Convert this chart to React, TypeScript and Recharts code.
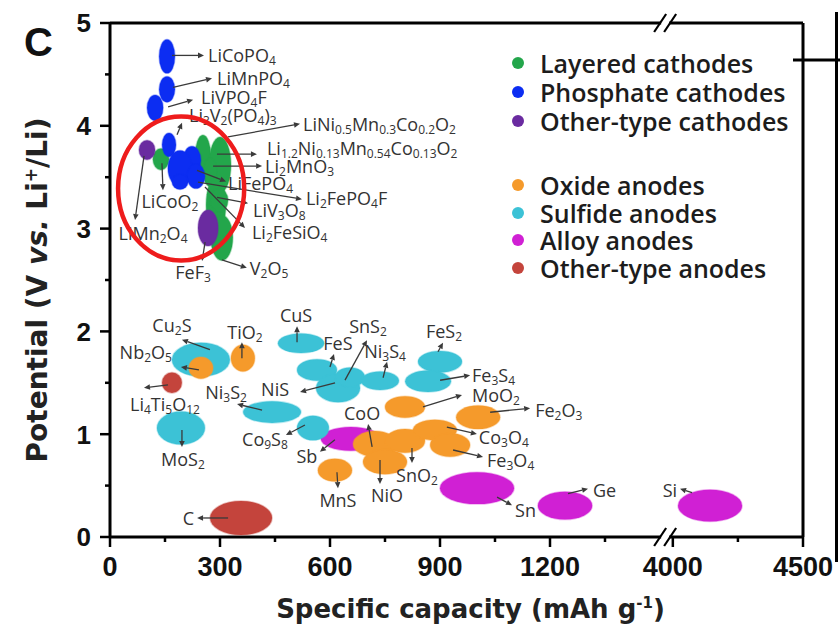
import React from 'react';
import { ScatterChart, Scatter, XAxis, YAxis, ReferenceLine, ReferenceDot } from 'recharts';

// Each material: specific capacity range (mAh/g) and potential range (V vs. Li+/Li)
type Material = { name: string; cap: [number, number]; pot: [number, number] };

const layeredCathodes: Material[] = [
  { name: 'LiCoO2', cap: [117, 161], pot: [3.57, 3.78] },
  { name: 'Li1.2Ni0.13Mn0.54Co0.13O2', cap: [232, 275], pot: [3.5, 3.91] },
  { name: 'LiNi0.5Mn0.3Co0.2O2', cap: [270, 330], pot: [3.35, 3.89] },
  { name: 'Li2MnO3', cap: [254, 292], pot: [3.41, 3.69] },
  { name: 'Li2FeSiO4', cap: [262, 316], pot: [2.96, 3.5] },
  { name: 'LiV3O8', cap: [273, 322], pot: [3.16, 3.39] },
  { name: 'V2O5', cap: [275, 335], pot: [2.69, 3.13] },
];

const phosphateCathodes: Material[] = [
  { name: 'LiCoPO4', cap: [134, 177], pot: [4.51, 4.84] },
  { name: 'LiMnPO4', cap: [134, 177], pot: [4.23, 4.48] },
  { name: 'LiVPO4F', cap: [101, 145], pot: [4.05, 4.3] },
  { name: 'Li3V2(PO4)3', cap: [142, 180], pot: [3.7, 3.93] },
  { name: 'LiMn0.5Fe0.5PO4', cap: [199, 248], pot: [3.53, 3.8] },
  { name: 'LiFePO4', cap: [158, 224], pot: [3.41, 3.76] },
  { name: 'Li2FePO4F', cap: [210, 259], pot: [3.39, 3.63] },
  { name: 'LiFe0.5Mn0.5PO4', cap: [169, 213], pot: [3.38, 3.53] },
];

const otherCathodes: Material[] = [
  { name: 'LiMn2O4', cap: [79, 123], pot: [3.67, 3.86] },
  { name: 'FeF3', cap: [240, 295], pot: [2.83, 3.18] },
];

const oxideAnodes: Material[] = [
  { name: 'Nb2O5', cap: [215, 281], pot: [1.54, 1.75] },
  { name: 'TiO2', cap: [330, 395], pot: [1.61, 1.87] },
  { name: 'MnS', cap: [567, 660], pot: [0.54, 0.76] },
  { name: 'CoO', cap: [663, 783], pot: [0.78, 1.03] },
  { name: 'NiO', cap: [690, 810], pot: [0.61, 0.85] },
  { name: 'SnO2', cap: [750, 859], pot: [0.82, 1.05] },
  { name: 'MoO2', cap: [750, 859], pot: [1.16, 1.37] },
  { name: 'Co3O4', cap: [826, 946], pot: [0.94, 1.14] },
  { name: 'Fe3O4', cap: [873, 982], pot: [0.78, 1.01] },
  { name: 'Fe2O3', cap: [944, 1064], pot: [1.05, 1.28] },
];

const sulfideAnodes: Material[] = [
  { name: 'Cu2S', cap: [169, 327], pot: [1.56, 1.89] },
  { name: 'CuS', cap: [458, 584], pot: [1.79, 1.98] },
  { name: 'MoS2', cap: [128, 259], pot: [0.9, 1.22] },
  { name: 'Ni3S2', cap: [363, 521], pot: [1.11, 1.32] },
  { name: 'Co9S8', cap: [510, 597], pot: [0.94, 1.18] },
  { name: 'FeS', cap: [510, 619], pot: [1.52, 1.73] },
  { name: 'NiS', cap: [562, 682], pot: [1.31, 1.59] },
  { name: 'SnS2', cap: [614, 695], pot: [1.46, 1.65] },
  { name: 'Ni3S4', cap: [685, 788], pot: [1.43, 1.61] },
  { name: 'FeS2', cap: [840, 960], pot: [1.6, 1.81] },
  { name: 'Fe3S4', cap: [805, 930], pot: [1.41, 1.62] },
];

const alloyAnodes: Material[] = [
  { name: 'Sb', cap: [575, 739], pot: [0.84, 1.07] },
  { name: 'Sn', cap: [900, 1102], pot: [0.32, 0.63] },
  { name: 'Ge', cap: [1167, 1315], pot: [0.17, 0.44] },
  { name: 'Si', cap: [4020, 4266], pot: [0.15, 0.46] },
];

const otherAnodes: Material[] = [
  { name: 'Li4Ti5O12', cap: [142, 196], pot: [1.4, 1.6] },
  { name: 'C', cap: [273, 442], pot: [0.02, 0.35] },
];

const legendOrder = ['layered', 'phosphate', 'otherCathode', 'oxide', 'sulfide', 'alloy', 'otherAnode'];
const drawOrder = ['layered', 'phosphate', 'otherCathode', 'alloy', 'sulfide', 'oxide', 'otherAnode'];

const categories: Record<string, { label: string; color: string; items: Material[] }> = {
  layered: { label: 'Layered cathodes', color: '#23a64b', items: layeredCathodes },
  phosphate: { label: 'Phosphate cathodes', color: '#0c2df2', items: phosphateCathodes },
  otherCathode: { label: 'Other-type cathodes', color: '#6a2ba0', items: otherCathodes },
  oxide: { label: 'Oxide anodes', color: '#f59a2b', items: oxideAnodes },
  sulfide: { label: 'Sulfide anodes', color: '#3cc2d6', items: sulfideAnodes },
  alloy: { label: 'Alloy anodes', color: '#d020d4', items: alloyAnodes },
  otherAnode: { label: 'Other-type anodes', color: '#c4443c', items: otherAnodes },
};

// Axis ticks (capacity axis has a break between 1500 and 4000 mAh/g)
const majorCapTicks = [0, 300, 600, 900, 1200, 4000, 4500];
const minorCapTicks = [150, 450, 750, 1050, 1350, 4250];
const majorPotTicks = [0, 1, 2, 3, 4, 5];
const minorPotTicks = [0.5, 1.5, 2.5, 3.5, 4.5];

// Callout layout: offsets in px from the material's drawn centre
type Callout = { of: string; tail: [number, number]; tip: [number, number]; at: [number, number]; anchor: 'start' | 'middle' | 'end' };
const callouts: Callout[] = [
  { of: 'LiCoPO4', tail: [5, -1], tip: [37, -1], at: [41, -1], anchor: 'start' },
  { of: 'LiMnPO4', tail: [6, -2], tip: [45, -11], at: [50, -11], anchor: 'start' },
  { of: 'LiVPO4F', tail: [13, -1], tip: [38, -8], at: [46, -11], anchor: 'start' },
  { of: 'Li3V2(PO4)3', tail: [8, -10], tip: [13, -22], at: [20, -30], anchor: 'start' },
  { of: 'LiNi0.5Mn0.3Co0.2O2', tail: [8, -28], tip: [80, -41], at: [83, -41], anchor: 'start' },
  { of: 'Li1.2Ni0.13Mn0.54Co0.13O2', tail: [14, -2], tip: [54, -2], at: [64, -8], anchor: 'start' },
  { of: 'Li2MnO3', tail: [3, -6], tip: [52, -6], at: [55, -6], anchor: 'start' },
  { of: 'LiFePO4', tail: [17, 2], tip: [46, 13], at: [48, 15], anchor: 'start' },
  { of: 'Li2FePO4F', tail: [2, 6], tip: [106, 23], at: [110, 22], anchor: 'start' },
  { of: 'LiV3O8', tail: [-2, -3], tip: [29, 3], at: [34, 10], anchor: 'start' },
  { of: 'Li2FeSiO4', tail: [-11, -18], tip: [29, 23], at: [36, 27], anchor: 'start' },
  { of: 'V2O5', tail: [0, 22], tip: [25, 30], at: [28, 30], anchor: 'start' },
  { of: 'LiCoO2', tail: [1, 4], tip: [2, 31], at: [9, 42], anchor: 'middle' },
  { of: 'LiMn2O4', tail: [-3, 6], tip: [-12, 70], at: [6, 83], anchor: 'middle' },
  { of: 'FeF3', tail: [-3, 14], tip: [-6, 33], at: [-15, 44], anchor: 'middle' },
  { of: 'Cu2S', tail: [9, -10], tip: [-19, -20], at: [-29, -35], anchor: 'middle' },
  { of: 'Nb2O5', tail: [-2, 2], tip: [-20, -1], at: [-29, -16], anchor: 'end' },
  { of: 'TiO2', tail: [-1, 0], tip: [-1, -16], at: [2, -26], anchor: 'middle' },
  { of: 'CuS', tail: [-4, -1], tip: [-4, -17], at: [-5, -28], anchor: 'middle' },
  { of: 'Li4Ti5O12', tail: [-4, 2], tip: [-28, 5], at: [-7, 21], anchor: 'middle' },
  { of: 'MoS2', tail: [1, 2], tip: [1, 19], at: [2, 31], anchor: 'middle' },
  { of: 'Ni3S2', tail: [-10, -2], tip: [-35, -8], at: [-46, -20], anchor: 'middle' },
  { of: 'NiS', tail: [-3, -5], tip: [-38, 4], at: [-63, 1], anchor: 'middle' },
  { of: 'Co9S8', tail: [-8, -3], tip: [-27, 7], at: [-48, 11], anchor: 'middle' },
  { of: 'FeS', tail: [13, -3], tip: [17, -16], at: [21, -27], anchor: 'middle' },
  { of: 'SnS2', tail: [-5, 3], tip: [17, -37], at: [18, -51], anchor: 'middle' },
  { of: 'Ni3S4', tail: [3, -3], tip: [7, -19], at: [5, -30], anchor: 'middle' },
  { of: 'FeS2', tail: [-2, -10], tip: [3, -19], at: [4, -31], anchor: 'middle' },
  { of: 'Fe3S4', tail: [12, -1], tip: [42, -6], at: [44, -6], anchor: 'start' },
  { of: 'MoO2', tail: [18, 0], tip: [57, -12], at: [67, -12], anchor: 'start' },
  { of: 'Fe2O3', tail: [12, -5], tip: [52, -9], at: [57, -7], anchor: 'start' },
  { of: 'Co3O4', tail: [12, -3], tip: [42, 4], at: [44, 7], anchor: 'start' },
  { of: 'Fe3O4', tail: [3, 5], tip: [33, 12], at: [37, 15], anchor: 'start' },
  { of: 'CoO', tail: [-3, 3], tip: [-7, -20], at: [-13, -31], anchor: 'middle' },
  { of: 'SnO2', tail: [7, 7], tip: [7, 22], at: [12, 34], anchor: 'middle' },
  { of: 'NiO', tail: [-5, -2], tip: [-5, 22], at: [2, 33], anchor: 'middle' },
  { of: 'MnS', tail: [2, 2], tip: [3, 18], at: [3, 30], anchor: 'middle' },
  { of: 'Sb', tail: [-16, 1], tip: [-31, 13], at: [-44, 17], anchor: 'middle' },
  { of: 'Sn', tail: [20, 9], tip: [35, 17], at: [38, 22], anchor: 'start' },
  { of: 'Ge', tail: [3, -12], tip: [23, -17], at: [28, -16], anchor: 'start' },
  { of: 'Si', tail: [-18, -13], tip: [-30, -17], at: [-33, -16], anchor: 'end' },
  { of: 'C', tail: [-13, 0], tip: [-44, 0], at: [-47, 0], anchor: 'end' },
];

// Highlighted region around the commercial cathodes
const highlight = { cap: [22, 366] as [number, number], pot: [2.69, 4.09] as [number, number] };

// ---- geometry ----
const W = 840;
const H = 635;
const MARGIN = { top: 23, right: 37, bottom: 38, left: 50 };
const Y_AXIS_W = 60;
const X_AXIS_H = 60;
const PLOT_W = W - MARGIN.left - MARGIN.right - Y_AXIS_W;
const PLOT_H = H - MARGIN.top - MARGIN.bottom - X_AXIS_H;
const POT_MAX = 5;

// broken capacity axis: 0–1500 linear, then 4000–4500 compressed after the break
const BREAK_FROM = 1500;
const RIGHT_START = 1535;
const RIGHT_SCALE = 0.71;
const toDisplay = (c: number) => (c <= BREAK_FROM ? c : RIGHT_START + (c - 4000) * RIGHT_SCALE);
const fromDisplay = (d: number) => (d <= BREAK_FROM ? d : 4000 + (d - RIGHT_START) / RIGHT_SCALE);
const X_MAX = toDisplay(4500);
const BREAK_AT = 1514;
const PX_PER_X = PLOT_W / X_MAX;
const PX_PER_Y = PLOT_H / POT_MAX;

const TICK_SIZE = 10;
const TICK_MARGIN = 10;
const AXIS_STROKE = 3;

const LABEL_FONT = '"Open Sans", "Noto Sans", sans-serif';
const TICK_FONT = '"Liberation Sans", Arial, sans-serif';
const TITLE_FONT = '"DejaVu Sans", sans-serif';

const centerOf = (m: Material) => ({
  x: toDisplay((m.cap[0] + m.cap[1]) / 2),
  y: (m.pot[0] + m.pot[1]) / 2,
});

const seriesRows = (key: string) =>
  categories[key].items.map((m) => ({ ...m, ...centerOf(m) }));

const allMaterials: Material[] = drawOrder.flatMap((k) => categories[k].items);
const calloutRows = callouts.map((c) => {
  const m = allMaterials.find((mm) => mm.name === c.of) as Material;
  return { ...c, text: m.name, ...centerOf(m) };
});

// ---- shapes ----
const EllipseShape = (props: any) => {
  const { cx, cy, payload, color } = props;
  if (cx == null || cy == null) return null;
  const rx = ((toDisplay(payload.cap[1]) - toDisplay(payload.cap[0])) / 2) * PX_PER_X;
  const ry = ((payload.pot[1] - payload.pot[0]) / 2) * PX_PER_Y;
  return <ellipse cx={cx} cy={cy} rx={rx} ry={ry} fill={color} stroke={color} strokeOpacity={0.35} strokeWidth={1.5} />;
};

const Formula = ({ text, x, y, anchor }: { text: string; x: number; y: number; anchor: string }) => {
  const parts = text.match(/[0-9.]+|[^0-9.]+/g) || [];
  let shifted = false;
  return (
    <text x={x} y={y} textAnchor={anchor as any} dominantBaseline="central" fontFamily={LABEL_FONT} fontSize={18} fill="#333">
      {parts.map((p, i) => {
        const sub = /^[0-9.]/.test(p);
        const dy = sub ? (shifted ? 0 : 5) : shifted ? -5 : 0;
        shifted = sub;
        return (
          <tspan key={i} dy={dy} fontSize={sub ? 12 : 18}>
            {p}
          </tspan>
        );
      })}
    </text>
  );
};

const CalloutShape = (props: any) => {
  const { cx, cy, payload } = props;
  if (cx == null || cy == null) return null;
  const x1 = cx + payload.tail[0];
  const y1 = cy + payload.tail[1];
  const x2 = cx + payload.tip[0];
  const y2 = cy + payload.tip[1];
  const ang = Math.atan2(y2 - y1, x2 - x1);
  const len = 6;
  const hw = 2.8;
  const bx = x2 - len * Math.cos(ang);
  const by = y2 - len * Math.sin(ang);
  const head = `${x2},${y2} ${bx + hw * Math.sin(ang)},${by - hw * Math.cos(ang)} ${bx - hw * Math.sin(ang)},${by + hw * Math.cos(ang)}`;
  return (
    <g>
      <line x1={x1} y1={y1} x2={bx} y2={by} stroke="#3a3a3a" strokeWidth={1.3} />
      <polygon points={head} fill="#3a3a3a" />
      <Formula text={payload.text} x={cx + payload.at[0]} y={cy + payload.at[1]} anchor={payload.anchor} />
    </g>
  );
};

const XTick = (props: any) => {
  const { x, y, payload } = props;
  const cap = Math.round(fromDisplay(payload.value));
  const major = majorCapTicks.includes(cap);
  const axisY = y - TICK_SIZE - TICK_MARGIN;
  return (
    <g>
      <line x1={x} x2={x} y1={axisY} y2={axisY + (major ? TICK_SIZE : 5)} stroke="#000" strokeWidth={2.5} />
      {major && (
        <text x={x} y={axisY + 20} dy="0.71em" textAnchor="middle" fontFamily={TICK_FONT} fontWeight={700} fontSize={27} fill="#111">
          {cap}
        </text>
      )}
    </g>
  );
};

const YTick = (props: any) => {
  const { x, y, payload } = props;
  const v = payload.value;
  const major = majorPotTicks.includes(v);
  const axisX = x + TICK_SIZE + TICK_MARGIN;
  return (
    <g>
      <line x1={axisX} x2={axisX - (major ? TICK_SIZE : 5)} y1={y} y2={y} stroke="#000" strokeWidth={2.5} />
      {major && (
        <text x={axisX - 19} y={y} dy="0.36em" textAnchor="end" fontFamily={TICK_FONT} fontWeight={700} fontSize={26} fill="#111">
          {v}
        </text>
      )}
    </g>
  );
};

const BreakMark = (props: any) => {
  const { cx, cy } = props;
  if (cx == null || cy == null) return null;
  return (
    <g>
      <rect x={cx - 4} y={cy - 3} width={8} height={6} fill="#fff" />
      <line x1={cx - 11} y1={cy + 9} x2={cx + 1} y2={cy - 9} stroke="#000" strokeWidth={2.2} />
      <line x1={cx - 1} y1={cy + 9} x2={cx + 11} y2={cy - 9} stroke="#000" strokeWidth={2.2} />
    </g>
  );
};

const HighlightShape = (props: any) => {
  const { cx, cy } = props;
  if (cx == null || cy == null) return null;
  const rx = ((highlight.cap[1] - highlight.cap[0]) / 2) * PX_PER_X;
  const ry = ((highlight.pot[1] - highlight.pot[0]) / 2) * PX_PER_Y;
  return <ellipse cx={cx} cy={cy} rx={rx} ry={ry} fill="none" stroke="#ee1c1c" strokeWidth={4.5} />;
};

const Legend = () => {
  const rows = legendOrder.map((k, i) => {
    const cathode = i < 3;
    const top = cathode ? 49 + i * 29 : 171 + (i - 3) * 27.5;
    return (
      <div
        key={k}
        style={{ position: 'absolute', left: 512, top, height: 28, display: 'flex', alignItems: 'center', whiteSpace: 'nowrap' }}
      >
        <span style={{ width: 12, height: 12, borderRadius: 6, background: categories[k].color, display: 'inline-block' }} />
        <span style={{ marginLeft: 16, fontFamily: LABEL_FONT, fontWeight: 600, fontSize: 25, color: '#1c1c1c', lineHeight: '28px' }}>
          {categories[k].label}
        </span>
      </div>
    );
  });
  return <>{rows}</>;
};

export default function App() {
  const hc = { x: toDisplay((highlight.cap[0] + highlight.cap[1]) / 2), y: (highlight.pot[0] + highlight.pot[1]) / 2 };
  const plotLeft = MARGIN.left + Y_AXIS_W;
  const plotTop = MARGIN.top;
  const yTitleY = plotTop + PLOT_H / 2 + 10;
  return (
    <div style={{ position: 'absolute', left: 0, top: 0, width: W, height: H, background: '#fff', overflow: 'hidden' }}>
      <ScatterChart width={W} height={H} margin={MARGIN}>
        <XAxis
          type="number"
          dataKey="x"
          domain={[0, X_MAX]}
          ticks={[...majorCapTicks, ...minorCapTicks].map(toDisplay).sort((a, b) => a - b)}
          interval={0}
          height={X_AXIS_H}
          tickSize={TICK_SIZE}
          tickMargin={TICK_MARGIN}
          tickLine={false}
          axisLine={{ stroke: '#000', strokeWidth: AXIS_STROKE }}
          tick={(p: any) => <XTick {...p} />}
        />
        <YAxis
          type="number"
          dataKey="y"
          domain={[0, POT_MAX]}
          ticks={[...majorPotTicks, ...minorPotTicks].sort((a, b) => a - b)}
          interval={0}
          width={Y_AXIS_W}
          tickSize={TICK_SIZE}
          tickMargin={TICK_MARGIN}
          tickLine={false}
          axisLine={{ stroke: '#000', strokeWidth: AXIS_STROKE }}
          tick={(p: any) => <YTick {...p} />}
        />
        <ReferenceLine y={POT_MAX} stroke="#000" strokeWidth={AXIS_STROKE} />
        <ReferenceLine x={X_MAX} stroke="#000" strokeWidth={AXIS_STROKE} />
        {drawOrder.map((k) => (
          <Scatter
            key={k}
            name={categories[k].label}
            data={seriesRows(k)}
            isAnimationActive={false}
            shape={(p: any) => <EllipseShape {...p} color={categories[k].color} />}
          />
        ))}
        <Scatter
          name="callouts"
          data={calloutRows}
          isAnimationActive={false}
          shape={(p: any) => <CalloutShape {...p} />}
        />
        <ReferenceDot x={hc.x} y={hc.y} r={0} shape={(p: any) => <HighlightShape {...p} />} />
        <ReferenceDot x={BREAK_AT} y={POT_MAX} r={0} ifOverflow="visible" shape={(p: any) => <BreakMark {...p} />} />
        <ReferenceDot x={BREAK_AT} y={0} r={0} ifOverflow="visible" shape={(p: any) => <BreakMark {...p} />} />
      </ScatterChart>

      <svg width={W} height={H} style={{ position: 'absolute', left: 0, top: 0, pointerEvents: 'none' }}>
        <text x={24} y={56} fontFamily={TICK_FONT} fontWeight={700} fontSize={40} fill="#111">
          C
        </text>
        <text
          x={plotLeft + PLOT_W / 2 + 14}
          y={618}
          textAnchor="middle"
          fontFamily={TITLE_FONT}
          fontWeight={700}
          fontSize={26}
          fill="#222"
        >
          Specific capacity (mAh g
          <tspan dy={-10} fontSize={15}>-1</tspan>
          <tspan dy={10}>)</tspan>
        </text>
        <text
          transform={`rotate(-90, 37, ${yTitleY})`}
          x={37}
          y={yTitleY}
          dy="0.36em"
          textAnchor="middle"
          fontFamily={TITLE_FONT}
          fontWeight={700}
          fontSize={28}
          fill="#222"
        >
          Potential (V <tspan fontStyle="italic">vs.</tspan> Li
          <tspan dy={-10} fontSize={17}>+</tspan>
          <tspan dy={10}>/Li)</tspan>
        </text>
        <line x1={793} y1={60} x2={840} y2={60} stroke="#000" strokeWidth={3} />
        <line x1={836.5} y1={12} x2={836.5} y2={562} stroke="#000" strokeWidth={3} />
      </svg>
      <Legend />
    </div>
  );
}
